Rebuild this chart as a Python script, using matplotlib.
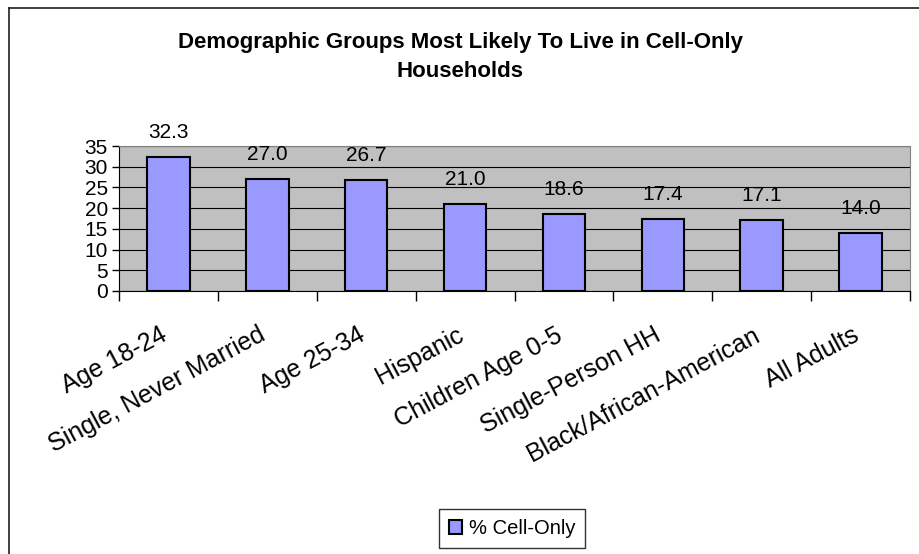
import matplotlib
matplotlib.use("Agg")
import matplotlib.pyplot as plt
from matplotlib.lines import Line2D

categories = ["Age 18-24", "Single, Never Married", "Age 25-34", "Hispanic",
              "Children Age 0-5", "Single-Person HH", "Black/African-American", "All Adults"]
values = [32.3, 27.0, 26.7, 21.0, 18.6, 17.4, 17.1, 14.0]
series_name = "% Cell-Only"
title = "Demographic Groups Most Likely To Live in Cell-Only\nHouseholds"
yticks = [0, 5, 10, 15, 20, 25, 30, 35]

plt.rcParams['font.family'] = ['Liberation Sans', 'DejaVu Sans']

W, H = 919, 554
fig = plt.figure(figsize=(W / 100, H / 100), dpi=100)

# outer chart border (top and left visible; right/bottom cropped)
fig.lines.append(Line2D([9 / W, 1.0], [1 - 8 / H, 1 - 8 / H], transform=fig.transFigure,
                        color='#202020', linewidth=1.2))
fig.lines.append(Line2D([9 / W, 9 / W], [0, 1 - 8 / H], transform=fig.transFigure,
                        color='#202020', linewidth=1.2))

ax = fig.add_axes([119 / W, 1 - 291 / H, 791 / W, 145 / H])
ax.set_facecolor('#C0C0C0')
x = list(range(len(categories)))
bars = ax.bar(x, values, width=0.43, color='#9999FF', edgecolor='black', linewidth=1.5,
              zorder=3, label=series_name)
ax.set_xlim(-0.5, len(categories) - 0.5)
ax.set_ylim(0, 35)
ax.set_yticks(yticks)
ax.set_yticklabels([str(v) for v in yticks], fontsize=15)
ax.yaxis.grid(True, color='black', linewidth=0.8, zorder=1)
ax.set_axisbelow(True)

ax.set_xticks([i + 0.5 for i in range(-1, len(categories))])
ax.set_xticklabels([])
ax.tick_params(axis='x', length=7, width=1, direction='out', color='black')
ax.tick_params(axis='y', length=5, width=1, direction='out', color='black', pad=3)

for i, c in enumerate(categories):
    ax.annotate(c, xy=(i, 0), xytext=(-6.5, -23),
                textcoords='offset points', rotation=28, rotation_mode='anchor',
                ha='right', va='top', fontsize=18)

for i, v in enumerate(values):
    ax.annotate(f"{v:.1f}", xy=(i, v), xytext=(0, 11), textcoords='offset points',
                ha='center', va='bottom', fontsize=15)

for s in ['top', 'right']:
    ax.spines[s].set_color('#808080')
for s in ['left', 'bottom']:
    ax.spines[s].set_color('black')

fig.text(460 / W, 1 - 57 / H, title, ha='center', va='center', fontsize=16,
         fontweight='bold', linespacing=1.45)

leg = fig.legend(handles=[bars], labels=[series_name], loc='center',
                 bbox_to_anchor=(512 / W, 1 - 528.5 / H), frameon=True, fancybox=False,
                 fontsize=14.5, handlelength=0.65, handleheight=0.65, handletextpad=0.35,
                 borderpad=0.5, borderaxespad=0)
leg.get_frame().set_edgecolor('black')
leg.get_frame().set_linewidth(1)

fig.savefig("out.png", dpi=100)
